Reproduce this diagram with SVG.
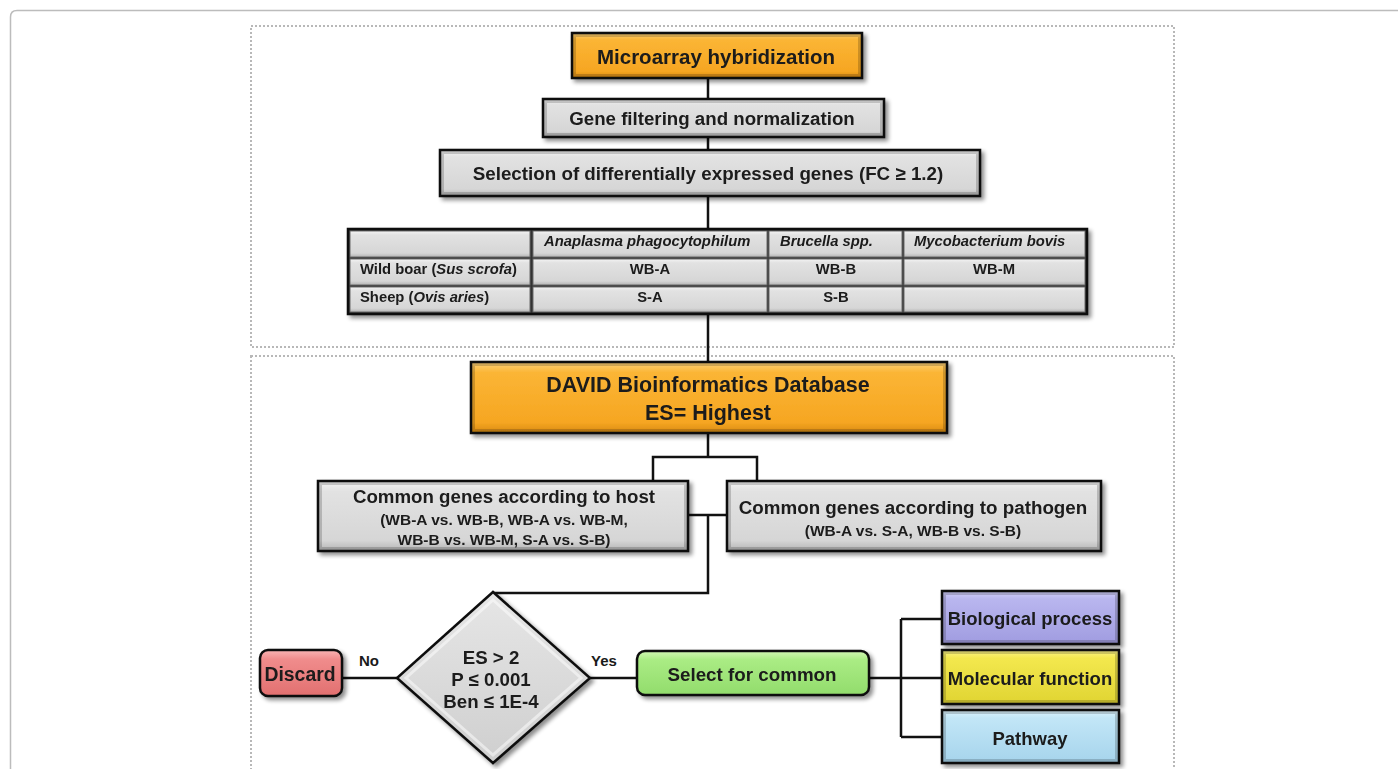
<svg xmlns="http://www.w3.org/2000/svg" width="1398" height="769" viewBox="0 0 1398 769">
<defs>
<linearGradient id="gGray" x1="0" y1="0" x2="0" y2="1">
<stop offset="0" stop-color="#f4f4f4"/><stop offset="0.15" stop-color="#e2e2e2"/><stop offset="0.85" stop-color="#d6d6d6"/><stop offset="1" stop-color="#b4b4b4"/>
</linearGradient>
<linearGradient id="gOrange" x1="0" y1="0" x2="0" y2="1">
<stop offset="0" stop-color="#fdd27a"/><stop offset="0.15" stop-color="#fbb535"/><stop offset="0.85" stop-color="#f6a622"/><stop offset="1" stop-color="#d88a12"/>
</linearGradient>
<linearGradient id="gRed" x1="0" y1="0" x2="0" y2="1">
<stop offset="0" stop-color="#f9b5b5"/><stop offset="0.2" stop-color="#f08c8c"/><stop offset="1" stop-color="#e27070"/>
</linearGradient>
<linearGradient id="gGreen" x1="0" y1="0" x2="0" y2="1">
<stop offset="0" stop-color="#d2f7b4"/><stop offset="0.2" stop-color="#aaec84"/><stop offset="1" stop-color="#92dc6c"/>
</linearGradient>
<linearGradient id="gPurple" x1="0" y1="0" x2="0" y2="1">
<stop offset="0" stop-color="#d2d0fa"/><stop offset="0.15" stop-color="#b9b6ef"/><stop offset="1" stop-color="#a09ce0"/>
</linearGradient>
<linearGradient id="gYellow" x1="0" y1="0" x2="0" y2="1">
<stop offset="0" stop-color="#fbf48c"/><stop offset="0.15" stop-color="#f3e84e"/><stop offset="1" stop-color="#e0d432"/>
</linearGradient>
<linearGradient id="gBlue" x1="0" y1="0" x2="0" y2="1">
<stop offset="0" stop-color="#def3fc"/><stop offset="0.15" stop-color="#c2e6f7"/><stop offset="1" stop-color="#a6d4ec"/>
</linearGradient>
<linearGradient id="gDiamond" x1="0" y1="0" x2="0" y2="1">
<stop offset="0" stop-color="#e6e6e6"/><stop offset="1" stop-color="#cfcfcf"/>
</linearGradient>
<filter id="shadow" x="-10%" y="-20%" width="125%" height="150%">
<feGaussianBlur in="SourceAlpha" stdDeviation="2"/>
<feOffset dx="3" dy="3" result="b"/>
<feComponentTransfer><feFuncA type="linear" slope="0.45"/></feComponentTransfer>
<feMerge><feMergeNode/><feMergeNode in="SourceGraphic"/></feMerge>
</filter>
</defs>
<style>
.frame{fill:none;stroke:#bcbcbc;stroke-width:1.5}
.dash{fill:none;stroke:#b8b8b8;stroke-width:2;stroke-dasharray:2 2}
.box{stroke:#111;stroke-width:2.5}
.bevelD{fill:none;stroke:#000;stroke-opacity:0.18;stroke-width:3}
.t{font-family:"Liberation Sans",Arial,sans-serif;font-weight:bold;fill:#1a1a1a;text-anchor:middle}
.ti{font-family:"Liberation Sans",Arial,sans-serif;font-weight:bold;font-style:italic;fill:#1a1a1a}
.tl{font-family:"Liberation Sans",Arial,sans-serif;font-weight:bold;fill:#1a1a1a}
.line{fill:none;stroke:#111;stroke-width:2.5}
.cell{fill:url(#gGray);stroke:#6a6a6a;stroke-width:1}
</style>
<rect width="1398" height="769" fill="#ffffff"/>
<path class="frame" d="M10.5 780 V17 Q10.5 10.5 17 10.5 H1400"/>
<rect class="dash" x="251" y="26" width="923" height="321"/>
<rect class="dash" x="251" y="356" width="923" height="420"/>

<g id="connectors">
<path class="line" d="M708 78 V99 M708 137 V150 M708 196 V229 M708 314 V362"/>
<path class="line" d="M708 433 V457 M653 481 V457 H757 V481"/>
<path class="line" d="M688 515 H727 M708 515 V593 H493"/>
<path class="line" d="M342 678 H397 M590 678 H637 M869 678 H942 M901 619 V737 M901 619 H942 M901 737 H942"/>
</g>

<g id="microarray" filter="url(#shadow)">
<rect class="box" x="572" y="33" width="290" height="45" fill="url(#gOrange)"/>
<rect class="bevelD" x="574.5" y="35.5" width="285" height="40"/>
<text class="t" x="716" y="64" font-size="20.5">Microarray hybridization</text>
</g>

<g id="gene-filtering" filter="url(#shadow)">
<rect class="box" x="543" y="99" width="341" height="38" fill="url(#gGray)"/>
<rect class="bevelD" x="545.5" y="101.5" width="336" height="33"/>
<text class="t" x="712" y="125" font-size="18.7">Gene filtering and normalization</text>
</g>

<g id="selection" filter="url(#shadow)">
<rect class="box" x="440" y="150" width="540" height="46" fill="url(#gGray)"/>
<rect class="bevelD" x="442.5" y="152.5" width="535" height="41"/>
<text class="t" x="708" y="180" font-size="18.8">Selection of differentially expressed genes (FC ≥ 1.2)</text>
</g>

<g id="table" filter="url(#shadow)">
<rect x="348" y="229" width="739" height="85" fill="#333"/>
<rect class="cell" x="350" y="231" width="180" height="26"/>
<rect class="cell" x="533" y="231" width="234" height="26"/>
<rect class="cell" x="769" y="231" width="133" height="26"/>
<rect class="cell" x="904" y="231" width="181" height="26"/>
<rect class="cell" x="350" y="259" width="180" height="26"/>
<rect class="cell" x="533" y="259" width="234" height="26"/>
<rect class="cell" x="769" y="259" width="133" height="26"/>
<rect class="cell" x="904" y="259" width="181" height="26"/>
<rect class="cell" x="350" y="287" width="180" height="25"/>
<rect class="cell" x="533" y="287" width="234" height="25"/>
<rect class="cell" x="769" y="287" width="133" height="25"/>
<rect class="cell" x="904" y="287" width="181" height="25"/>
<rect x="348" y="229" width="739" height="85" fill="none" stroke="#111" stroke-width="2.5"/>
<text class="ti" x="544" y="246" font-size="14.8">Anaplasma phagocytophilum</text>
<text class="ti" x="780" y="246" font-size="14.8">Brucella spp.</text>
<text class="ti" x="914" y="246" font-size="14.8">Mycobacterium bovis</text>
<text class="tl" x="360" y="274" font-size="14.8">Wild boar (<tspan font-style="italic">Sus scrofa</tspan>)</text>
<text class="tl" x="360" y="302" font-size="14.8">Sheep (<tspan font-style="italic">Ovis aries</tspan>)</text>
<text class="t" x="650" y="274" font-size="14.8">WB-A</text>
<text class="t" x="836" y="274" font-size="14.8">WB-B</text>
<text class="t" x="994" y="274" font-size="14.8">WB-M</text>
<text class="t" x="650" y="302" font-size="14.8">S-A</text>
<text class="t" x="836" y="302" font-size="14.8">S-B</text>
</g>

<g id="david" filter="url(#shadow)">
<rect class="box" x="471" y="362" width="476" height="71" fill="url(#gOrange)"/>
<rect class="bevelD" x="473.5" y="364.5" width="471" height="66"/>
<text class="t" x="708" y="392" font-size="21.5">DAVID Bioinformatics Database</text>
<text class="t" x="708" y="420" font-size="21.5">ES= Highest</text>
</g>

<g id="host" filter="url(#shadow)">
<rect class="box" x="318" y="481" width="370" height="70" fill="url(#gGray)"/>
<rect class="bevelD" x="320.5" y="483.5" width="365" height="65"/>
<text class="t" x="504" y="503" font-size="18.7">Common genes according to host</text>
<text class="t" x="504" y="525" font-size="15.5">(WB-A vs. WB-B, WB-A vs. WB-M,</text>
<text class="t" x="504" y="545" font-size="15.5">WB-B vs. WB-M, S-A vs. S-B)</text>
</g>

<g id="pathogen" filter="url(#shadow)">
<rect class="box" x="727" y="481" width="374" height="70" fill="url(#gGray)"/>
<rect class="bevelD" x="729.5" y="483.5" width="369" height="65"/>
<text class="t" x="913" y="514" font-size="18.8">Common genes  according to pathogen</text>
<text class="t" x="913" y="536" font-size="15.5">(WB-A vs. S-A, WB-B vs. S-B)</text>
</g>

<g id="decision" filter="url(#shadow)">
<polygon points="493,592 590,678 493,763 397,678" fill="url(#gDiamond)" stroke="#111" stroke-width="2.5"/>
<polygon points="493,600 581,678 493,755 406,678" fill="none" stroke="#ffffff" stroke-opacity="0.5" stroke-width="3"/>
<text class="t" x="491" y="664" font-size="18.7">ES &gt; 2</text>
<text class="t" x="491" y="686" font-size="18.7">P ≤ 0.001</text>
<text class="t" x="491" y="708" font-size="18.7">Ben ≤ 1E-4</text>
</g>

<g id="labels">
<text class="t" x="369" y="666" font-size="15">No</text>
<text class="t" x="604" y="666" font-size="15">Yes</text>
</g>

<g id="discard" filter="url(#shadow)">
<rect class="box" x="260" y="650" width="82" height="46" rx="8" fill="url(#gRed)"/>
<text class="t" x="300" y="681" font-size="19.4">Discard</text>
</g>

<g id="select-common" filter="url(#shadow)">
<rect class="box" x="637" y="651" width="232" height="44" rx="8" fill="url(#gGreen)"/>
<text class="t" x="752" y="681" font-size="18.8">Select for common</text>
</g>

<g id="biological" filter="url(#shadow)">
<rect class="box" x="942" y="591" width="177" height="53" fill="url(#gPurple)"/>
<rect class="bevelD" x="944.5" y="593.5" width="172" height="48"/>
<text class="t" x="1030" y="625" font-size="18.5">Biological process</text>
</g>

<g id="molecular" filter="url(#shadow)">
<rect class="box" x="942" y="650" width="177" height="54" fill="url(#gYellow)"/>
<rect class="bevelD" x="944.5" y="652.5" width="172" height="49"/>
<text class="t" x="1030" y="685" font-size="18.5">Molecular function</text>
</g>

<g id="pathway" filter="url(#shadow)">
<rect class="box" x="942" y="710" width="177" height="53" fill="url(#gBlue)"/>
<rect class="bevelD" x="944.5" y="712.5" width="172" height="48"/>
<text class="t" x="1030" y="745" font-size="18.5">Pathway</text>
</g>
</svg>
